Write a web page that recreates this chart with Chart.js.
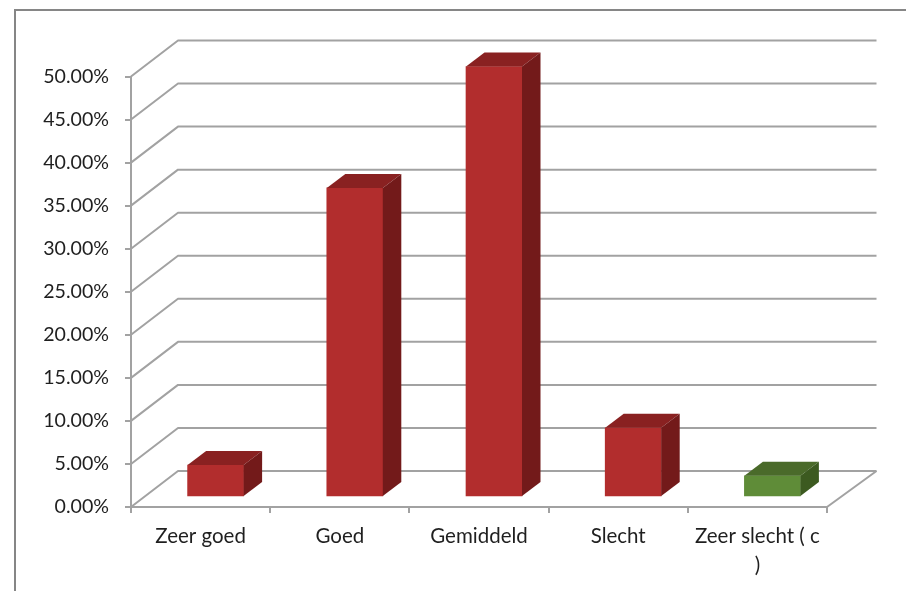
<!DOCTYPE html>
<html>
<head>
<meta charset="utf-8">
<script src="https://cdn.jsdelivr.net/npm/chart.js@4"></script>
<style>
html,body{margin:0;padding:0;background:#fff;overflow:hidden}
canvas{display:block}
</style>
</head>
<body>
<canvas id="c" width="906" height="591"></canvas>
<script>
const categories = ["Zeer goed", "Goed", "Gemiddeld", "Slecht", ["Zeer slecht ( c", ")"]];
const percentages = [3.72, 35.9, 50.0, 8.04, 2.46];
const frontColors = ["#b22d2d", "#b22d2d", "#b22d2d", "#b22d2d", "#5f8c38"];
const topColors = ["#892121", "#892121", "#892121", "#892121", "#4a6a2a"];
const sideColors = ["#731a1a", "#731a1a", "#731a1a", "#731a1a", "#3c5a20"];

const GRID = "#a2a2a2";
const TEXT = "#1f1f1f";
const WALL = {dx: 47, dy: -36};     // depth of the chart floor
const BAR_SHIFT = {dx: 15, dy: -10}; // bars stand in the middle of the floor
const BAR_DEPTH = {dx: 18.5, dy: -14};

function poly(ctx, pts, fill) {
  ctx.beginPath();
  pts.forEach((p, i) => i ? ctx.lineTo(p[0], p[1]) : ctx.moveTo(p[0], p[1]));
  ctx.closePath();
  ctx.fillStyle = fill;
  ctx.fill();
}

const threeD = {
  id: "threeD",
  beforeDraw(chart) {
    // outer chart frame (only top and left fall inside the picture)
    const ctx = chart.ctx;
    ctx.save();
    ctx.strokeStyle = "#868686";
    ctx.lineWidth = 2;
    ctx.beginPath();
    ctx.moveTo(15, 591);
    ctx.lineTo(15, 10);
    ctx.lineTo(906, 10);
    ctx.stroke();
    ctx.restore();
  },
  beforeDatasetsDraw(chart) {
    const ctx = chart.ctx, y = chart.scales.y, a = chart.chartArea;
    ctx.save();
    ctx.strokeStyle = GRID;
    ctx.lineWidth = 2;
    ctx.lineJoin = "round";
    y.ticks.forEach(t => {
      const py = y.getPixelForValue(t.value);
      ctx.beginPath();
      ctx.moveTo(a.left, py);
      ctx.lineTo(a.left + WALL.dx, py + WALL.dy);
      ctx.lineTo(a.right + WALL.dx + 2.5, py + WALL.dy);
      ctx.stroke();
    });
    // right edge of the floor
    const py0 = y.getPixelForValue(0);
    ctx.beginPath();
    ctx.moveTo(a.right, py0);
    ctx.lineTo(a.right + WALL.dx + 2.5, py0 + WALL.dy);
    ctx.stroke();
    ctx.restore();
    // bars are drawn shifted back on the floor
    ctx.save();
    ctx.translate(BAR_SHIFT.dx, BAR_SHIFT.dy);
  },
  afterDatasetsDraw(chart) {
    const ctx = chart.ctx;
    chart.getDatasetMeta(0).data.forEach((bar, i) => {
      const l = bar.x - bar.width / 2, r = bar.x + bar.width / 2;
      const t = bar.y, b = bar.base, d = BAR_DEPTH;
      poly(ctx, [[l, t], [r, t], [r + d.dx, t + d.dy], [l + d.dx, t + d.dy]], topColors[i]);
      poly(ctx, [[r, t], [r + d.dx, t + d.dy], [r + d.dx, b + d.dy], [r, b]], sideColors[i]);
    });
    ctx.restore();
  }
};

new Chart(document.getElementById("c"), {
  type: "bar",
  plugins: [threeD],
  data: {
    labels: categories,
    datasets: [{
      data: percentages,
      backgroundColor: frontColors,
      borderWidth: 0,
      barThickness: 56,
      clip: false
    }]
  },
  options: {
    responsive: false,
    animation: false,
    layout: {padding: {top: 76.5, right: 79, left: 0, bottom: 0}},
    plugins: {legend: {display: false}, title: {display: false}, tooltip: {enabled: false}},
    scales: {
      x: {
        grid: {drawOnChartArea: false, drawTicks: true, tickLength: 6, color: GRID, lineWidth: 2},
        border: {color: GRID, width: 2},
        ticks: {
          color: TEXT, padding: 9, maxRotation: 0, autoSkip: false,
          font: {family: "Lato", size: 20.5, lineHeight: 1.42}
        },
        afterFit(s) { s.height = 84; }
      },
      y: {
        min: 0, max: 50,
        grid: {drawOnChartArea: false, drawTicks: true, tickLength: 6, color: GRID, lineWidth: 2},
        border: {color: GRID, width: 2},
        ticks: {
          stepSize: 5, color: TEXT, padding: 16,
          font: {family: "Lato", size: 19.6},
          callback: v => v.toFixed(2) + "%"
        },
        afterFit(s) { s.width = 131; }
      }
    }
  }
});
</script>
</body>
</html>
